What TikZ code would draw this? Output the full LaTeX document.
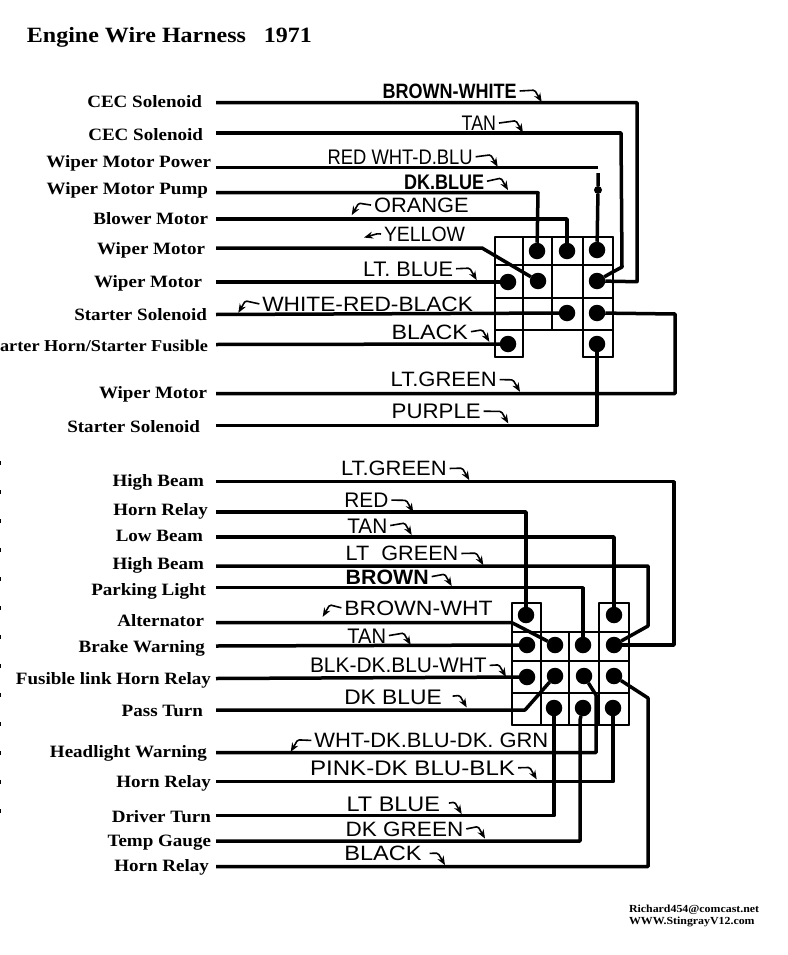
\documentclass[tikz,border=0pt]{standalone}
\usepackage{fontspec}
\setmainfont{Liberation Serif}
\setsansfont{Liberation Sans}
\newfontfamily\namefont[FakeStretch=1.10]{Liberation Serif}
\usetikzlibrary{arrows.meta}
\newcommand{\tagtext}[2]{\resizebox{#1pt}{14.5pt}{#2}}

\begin{document}
\begin{tikzpicture}
[
    x = 1pt, y = -1pt,
    every node/.style = {inner sep = 0pt, outer sep = 0pt},
    wire/.style = {line width = 3.5pt, line join = round},
    cell/.style = {line width = 1.9pt, line cap = round},
    hook/.style = {line width = 1.6pt, rounded corners = 1.5pt, shorten <= 3pt,
                   -{Stealth[length = 9pt, width = 7pt]}}
  ]

  \tikzset{PinStyle/.style = {shape = circle, fill = black, minimum size = 16.5pt},
           NameStyle/.style = {anchor = base east, text = black,
                               font = \namefont\bfseries\fontsize{17.3}{20}\selectfont},
           TagStyle/.style = {anchor = base west, text = black, font = \sffamily},
           BoldTagStyle/.style = {TagStyle, font = \sffamily\bfseries}}

  \useasboundingbox (0,0) rectangle (787,955);

  \node[anchor = base west, font = \namefont\bfseries\fontsize{21.8}{26}\selectfont](title)
      at (27,42.3){Engine Wire Harness\ \ \ 1971};
  \node[anchor = base west, font = \namefont\bfseries\fontsize{10.8}{12}\selectfont](mail)
      at (629,912.3){Richard454@comcast.net};
  \node[anchor = base west, font = \namefont\bfseries\fontsize{10.8}{12}\selectfont](site)
      at (629,924.3){WWW.StingrayV12.com};

  % speckle along the left edge
  \draw[line width = 1.5pt, dash pattern = on 4pt off 25pt] (0.7,461) -- (0.7,818);

  % names, upper block
  \node[NameStyle](n1) at (202,107.5){CEC Solenoid};
  \node[NameStyle](n2) at (203,140){CEC Solenoid};
  \node[NameStyle](n3) at (211,167.7){Wiper Motor Power};
  \node[NameStyle](n4) at (208,194){Wiper Motor Pump};
  \node[NameStyle](n5) at (208,224){Blower Motor};
  \node[NameStyle](n6) at (205,254){Wiper Motor};
  \node[NameStyle](n7) at (202,287){Wiper Motor};
  \node[NameStyle](n8) at (207,320){Starter Solenoid};
  \node[NameStyle, font = \namefont\bfseries\fontsize{16.6}{20}\selectfont](n9)
      at (208,351){arter Horn/Starter Fusible};
  \node[NameStyle](n10) at (207,398){Wiper Motor};
  \node[NameStyle](n11) at (200,432){Starter Solenoid};

  % names, lower block
  \node[NameStyle](m1) at (204,486){High Beam};
  \node[NameStyle](m2) at (208,515){Horn Relay};
  \node[NameStyle](m3) at (203,541){Low Beam};
  \node[NameStyle](m4) at (204,569){High Beam};
  \node[NameStyle](m5) at (206,595){Parking Light};
  \node[NameStyle](m6) at (204,626){Alternator};
  \node[NameStyle](m7) at (205,652){Brake Warning};
  \node[NameStyle](m8) at (211,684){Fusible link Horn Relay};
  \node[NameStyle](m9) at (203,716){Pass Turn};
  \node[NameStyle](m10) at (207,757){Headlight Warning};
  \node[NameStyle](m11) at (211,787){Horn Relay};
  \node[NameStyle](m12) at (211,822){Driver Turn};
  \node[NameStyle](m13) at (211,846){Temp Gauge};
  \node[NameStyle](m14) at (209,871){Horn Relay};

  % free wire ends
  \coordinate (a1) at (216,102.7);
  \coordinate (a2) at (216,133);
  \coordinate (a3) at (216,167.7);
  \coordinate (a4) at (216,192.7);
  \coordinate (a5) at (216,219);
  \coordinate (a6) at (216,248);
  \coordinate (a7) at (216,282);
  \coordinate (a8) at (216,314.5);
  \coordinate (a9) at (216,344.5);
  \coordinate (a10) at (216,393.7);
  \coordinate (a11) at (216,425.7);

  \coordinate (b1) at (216,481.7);
  \coordinate (b2) at (216,512);
  \coordinate (b3) at (216,537);
  \coordinate (b4) at (216,566);
  \coordinate (b5) at (216,587.7);
  \coordinate (b6) at (216,622.7);
  \coordinate (b7) at (216,646);
  \coordinate (b8) at (216,678.5);
  \coordinate (b9) at (216,710);
  \coordinate (b10) at (216,752.7);
  \coordinate (b11) at (216,781.7);
  \coordinate (b12) at (216,815.7);
  \coordinate (b13) at (216,841);
  \coordinate (b14) at (216,866.7);

  % upper connector
  \draw[cell] (495,237) -- (613,237) (495,265) -- (613,265) (495,298) -- (613,298)
              (495,330) -- (613,330) (495,357) -- (523,357) (583,357) -- (613,357);
  \draw[cell] (495,237) -- (495,357) (523,237) -- (523,357) (552,237) -- (552,330)
              (583,237) -- (583,357) (613,237) -- (613,357);

  \node[PinStyle](p1) at (537,251){};
  \node[PinStyle](p2) at (567,251){};
  \node[PinStyle](p3) at (597,250){};
  \node[PinStyle](p4) at (508,282){};
  \node[PinStyle](p5) at (538,281){};
  \node[PinStyle](p6) at (597,281){};
  \node[PinStyle](p7) at (567,313){};
  \node[PinStyle](p8) at (597,313){};
  \node[PinStyle](p9) at (508,344){};
  \node[PinStyle](p10) at (597,344){};

  % lower connector
  \draw[cell] (512,603) -- (541,603) (599,603) -- (629,603) (512,632) -- (629,632)
              (512,661) -- (629,661) (512,693) -- (629,693) (512,725) -- (629,725);
  \draw[cell] (512,603) -- (512,725) (541,603) -- (541,725) (569,632) -- (569,725)
              (599,603) -- (599,725) (629,603) -- (629,725);

  \node[PinStyle](q1) at (526,615){};
  \node[PinStyle](q2) at (614,615){};
  \node[PinStyle](q3) at (527,645){};
  \node[PinStyle](q4) at (555,645){};
  \node[PinStyle](q5) at (583,645){};
  \node[PinStyle](q6) at (614,645){};
  \node[PinStyle](q7) at (527,677){};
  \node[PinStyle](q8) at (555,676){};
  \node[PinStyle](q9) at (584,676){};
  \node[PinStyle](q10) at (614,676){};
  \node[PinStyle](q11) at (554,708){};
  \node[PinStyle](q12) at (583,708){};
  \node[PinStyle](q13) at (613,708){};

  % upper wires
  \draw[wire] (a1) -- (637,102.7) -- (637,281.7) -- (p6);
  \draw[wire] (a2) -- (621,133) -- (622,267) -- (611,273) -- (p6);
  \draw[wire] (a3) -- (598,167.7);
  \coordinate (c3) at (598,173);
  \node[circle, fill = black, minimum size = 8pt](d3) at (598,190){};
  \draw[wire] (c3) -- (d3) -- (p3);
  \draw[wire] (a4) -- (538,192.7) -- (p1);
  \draw[wire] (a5) -- (567,219) -- (p2);
  \draw[wire] (a6) -- (482,248) -- (p5);
  \draw[wire] (a7) -- (p4);
  \draw[wire] (a8) -- (p7);
  \draw[wire] (a9) -- (p9);
  \draw[wire] (a10) -- (675,393.7) -- (675,314) -- (p8);
  \draw[wire] (a11) -- (597,425.7) -- (p10);

  % lower wires
  \draw[wire] (b1) -- (674,481.7) -- (674,645) -- (q6);
  \draw[wire] (b2) -- (526,512) -- (q1);
  \draw[wire] (b3) -- (614,537) -- (q2);
  \draw[wire] (b4) -- (648,566) -- (648,626) -- (q6);
  \draw[wire] (b5) -- (583,587.7) -- (q5);
  \draw[wire] (b6) -- (512,622.7) -- (q4);
  \draw[wire] (b7) -- (q3);
  \draw[wire] (b8) -- (q7);
  \draw[wire] (b9) -- (525,710) -- (q8);
  \draw[wire] (b10) -- (596,752.7) -- (596,695) -- (q9);
  \draw[wire] (b11) -- (613,781.7) -- (q13);
  \draw[wire] (b12) -- (554,815.7) -- (q11);
  \draw[wire] (b13) -- (580,841) -- (580,720) -- (q12);
  \draw[wire] (b14) -- (648,866.7) -- (648,698) -- (q10);

  % colour tags, upper block
  \node[BoldTagStyle](t1) at (382.7,98.3){\tagtext{134}{BROWN-WHITE}};
  \node[TagStyle](t2) at (461.7,130.7){\tagtext{34.3}{TAN}};
  \node[TagStyle](t3) at (327.7,164.3){\tagtext{145}{RED WHT-D.BLU}};
  \node[BoldTagStyle](t4) at (404,189){\tagtext{80}{DK.BLUE}};
  \node[TagStyle](t5) at (374,212.7){\tagtext{94.7}{ORANGE}};
  \node[TagStyle](t6) at (384,241.7){\tagtext{81}{YELLOW}};
  \node[TagStyle](t7) at (363,276){\tagtext{90}{LT. BLUE}};
  \node[TagStyle](t8) at (262.3,311.7){\tagtext{210.7}{WHITE-RED-BLACK}};
  \node[TagStyle](t9) at (391.7,339.3){\tagtext{76.3}{BLACK}};
  \node[TagStyle](t10) at (390.7,386.7){\tagtext{106}{LT.GREEN}};
  \node[TagStyle](t11) at (391.7,418.3){\tagtext{89}{PURPLE}};

  % colour tags, lower block
  \node[TagStyle](u1) at (341,475.7){\tagtext{105.7}{LT.GREEN}};
  \node[TagStyle](u2) at (344.3,507.3){\tagtext{44}{RED}};
  \node[TagStyle](u3) at (347.3,533.3){\tagtext{40}{TAN}};
  \node[TagStyle](u4) at (345.7,560.7){\tagtext{112.6}{LT\ \ GREEN}};
  \node[BoldTagStyle](u5) at (345.7,584.3){\tagtext{83}{BROWN}};
  \node[TagStyle](u6) at (344.3,615.7){\tagtext{148.4}{BROWN-WHT}};
  \node[TagStyle](u7) at (347.3,643.3){\tagtext{38.7}{TAN}};
  \node[TagStyle](u8) at (310,672.7){\tagtext{176.7}{BLK-DK.BLU-WHT}};
  \node[TagStyle](u9) at (344.3,704.3){\tagtext{97.4}{DK BLUE}};
  \node[TagStyle](u10) at (314.3,747.7){\tagtext{234}{WHT-DK.BLU-DK. GRN}};
  \node[TagStyle](u11) at (310,775){\tagtext{205}{PINK-DK BLU-BLK}};
  \node[TagStyle](u12) at (346.7,811.7){\tagtext{93.3}{LT BLUE}};
  \node[TagStyle](u13) at (345.7,836.7){\tagtext{117.6}{DK GREEN}};
  \node[TagStyle](u14) at (344.3,860.7){\tagtext{77.4}{BLACK}};

  % little hooks from tag to wire
  \draw[hook] (t1.east) -- ++(18,-1) -- ++(7,12);
  \draw[hook] (t2.east) -- ++(20,-2.7) -- ++(7,12);
  \draw[hook] (t3.east) -- ++(18,-2.3) -- ++(7,12);
  \draw[hook] (t4.east) -- ++(17,-3.7) -- ++(7,12);
  \draw[hook] (t5.west) -- ++(-15.3,-2.4) -- ++(-7,12);
  \draw[hook] (t6.west) -- ++(-6,-1) -- ++(-14,4);
  \draw[hook] (t7.east) -- ++(16.7,-0.7) -- ++(7,12);
  \draw[hook] (t8.west) -- ++(-17,-3.7) -- ++(-7,12);
  \draw[hook] (t9.east) -- ++(14.3,-2.3) -- ++(7,12);
  \draw[hook] (t10.east) -- ++(16.3,0.3) -- ++(7,12);
  \draw[hook] (t11.east) -- ++(20.6,0.3) -- ++(7,12);

  \draw[hook] (u1.east) -- ++(15.6,-0.4) -- ++(7,12);
  \draw[hook] (u2.east) -- ++(18,0.3) -- ++(7,12);
  \draw[hook] (u3.east) -- ++(17.4,-3) -- ++(7,12);
  \draw[hook] (u4.east) -- ++(18,-0.4) -- ++(7,12);
  \draw[hook] (u5.east) -- ++(16,-3) -- ++(7,12);
  \draw[hook] (u6.west) -- ++(-14.6,-3.7) -- ++(-7,12);
  \draw[hook] (u7.east) -- ++(17.7,-3) -- ++(7,12);
  \draw[hook] (u8.east) -- ++(12.3,-0.7) -- ++(7,12);
  \draw[hook, shorten <= 11pt] (u9.east) -- ++(18,-1.7) -- ++(7,12);
  \draw[hook] (u10.west) -- ++(-16.6,-0.7) -- ++(-7,12);
  \draw[hook] (u11.east) -- ++(14.7,-0.4) -- ++(7,12);
  \draw[hook, shorten <= 9pt] (u12.east) -- ++(14.7,-2.4) -- ++(7,12);
  \draw[hook] (u13.east) -- ++(14.7,-3) -- ++(7,12);
  \draw[hook, shorten <= 8pt] (u14.east) -- ++(16.3,-0.4) -- ++(7,12);

\end{tikzpicture}
\end{document}
